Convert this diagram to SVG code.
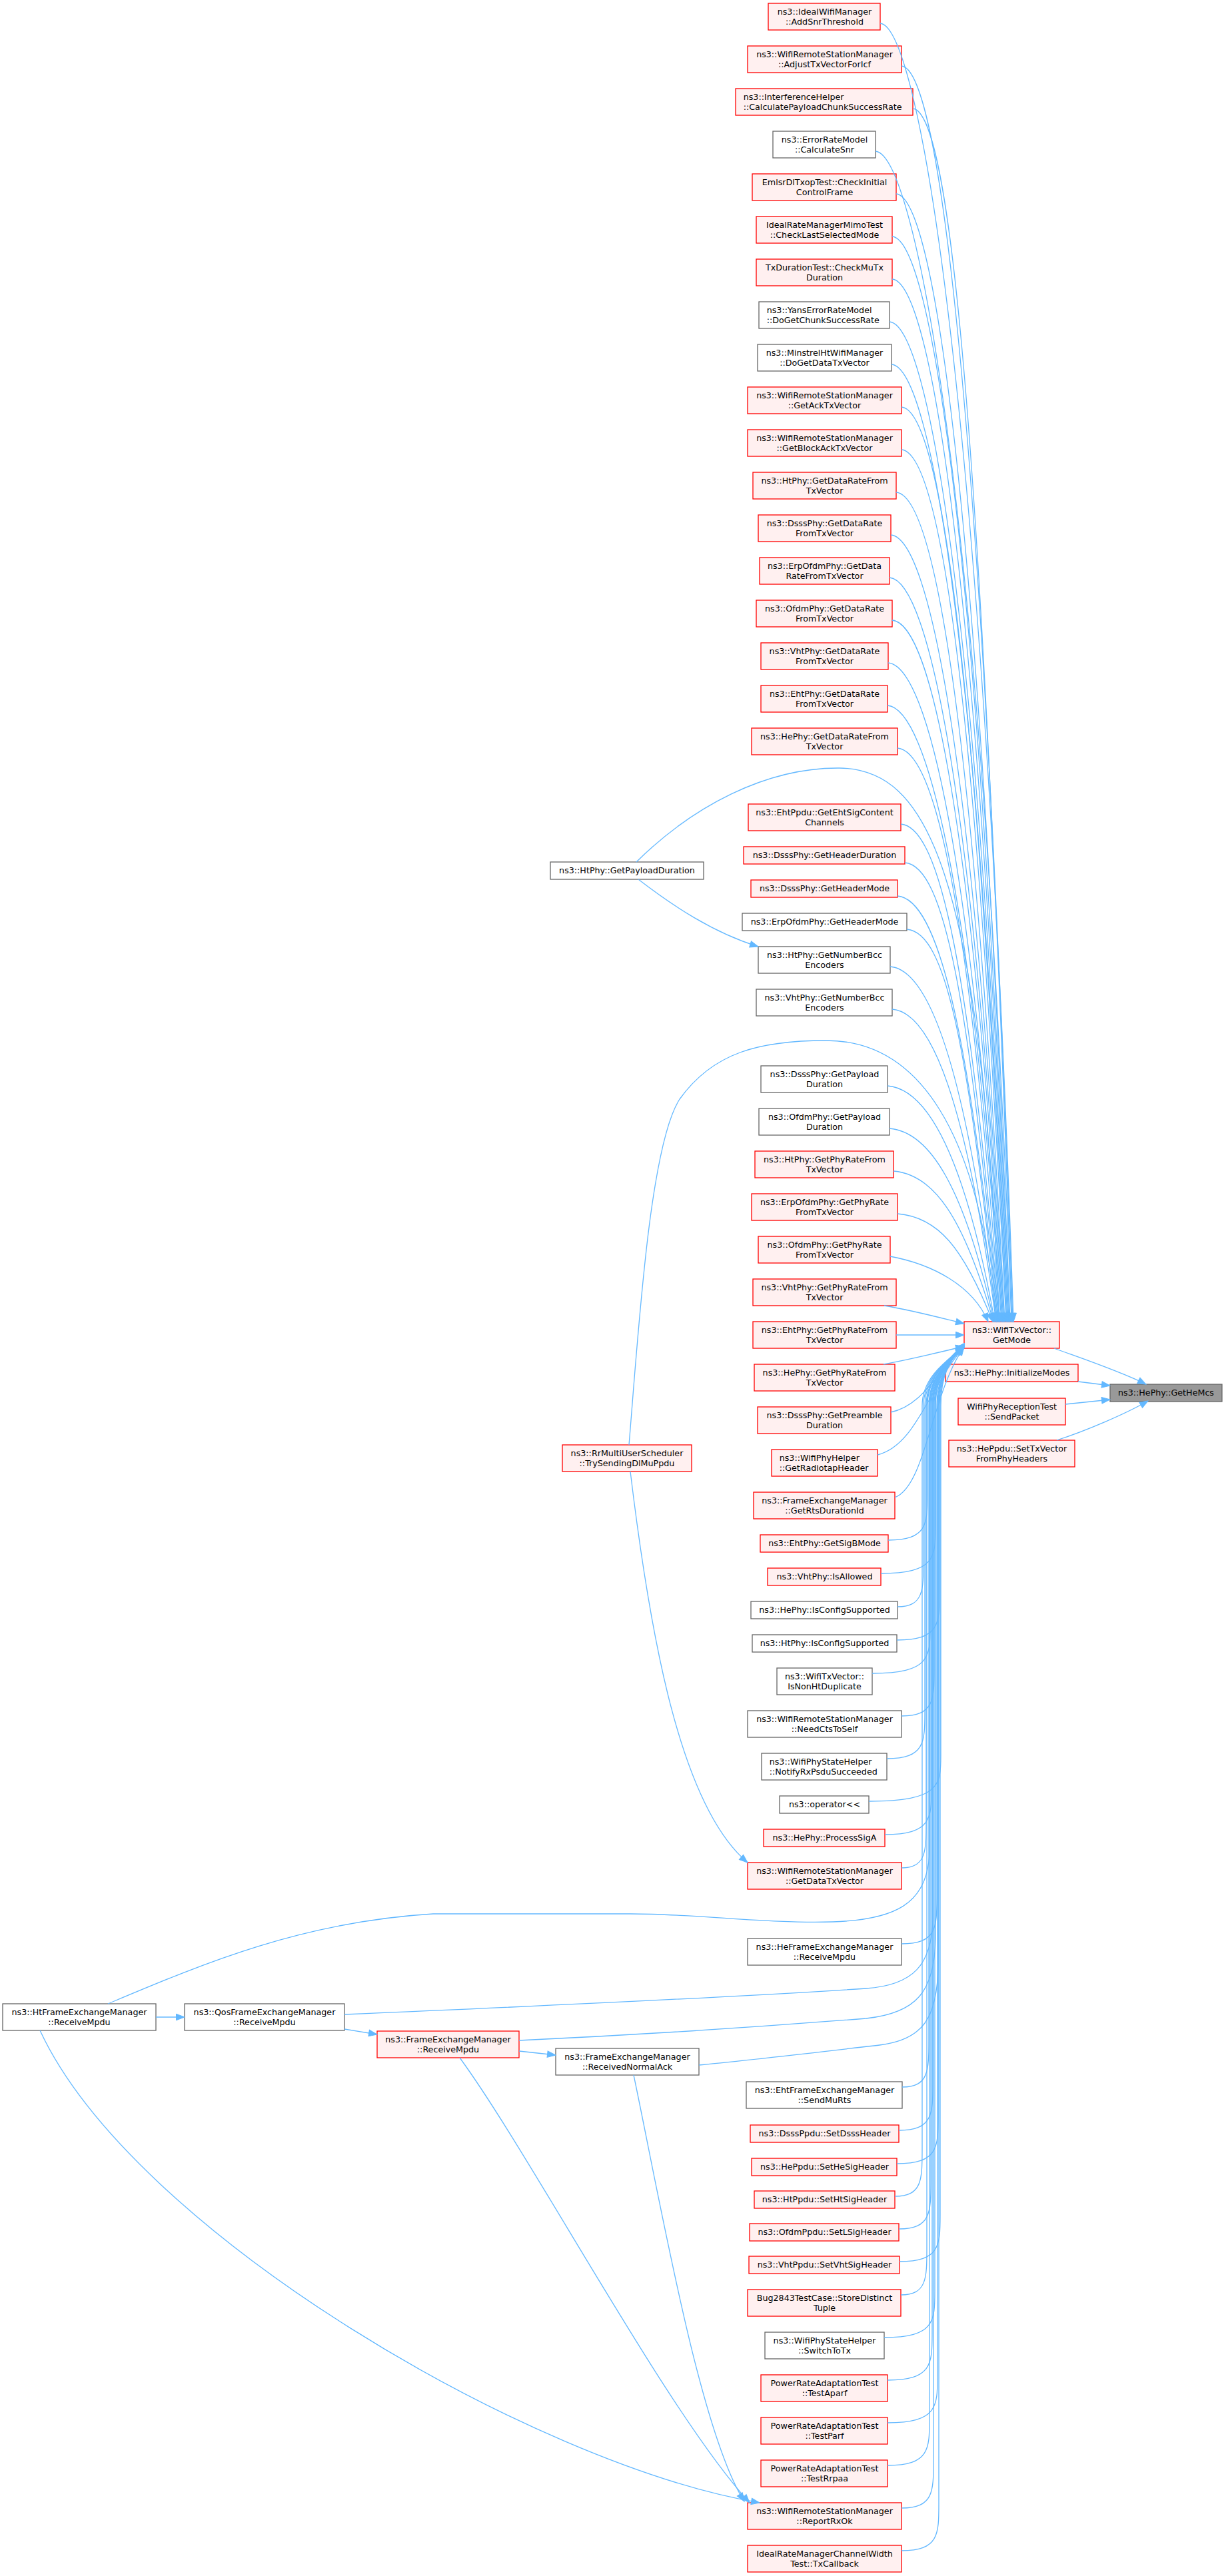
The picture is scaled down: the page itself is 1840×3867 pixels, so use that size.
<svg xmlns="http://www.w3.org/2000/svg" width="1840" height="3867" viewBox="0 0 1840 3867">
<style>
.r rect{fill:#FFF0F0;stroke:#FF0000;stroke-width:1.3}
.g rect{fill:#FFFFFF;stroke:#666666;stroke-width:1.3}
.root rect{fill:#999999;stroke:#666666;stroke-width:1.3}
text{font-family:"DejaVu Sans","Liberation Sans",sans-serif;font-size:12.7px;fill:#000000;text-anchor:middle}
.l text{text-anchor:start}
#edges path{fill:none;stroke:#63B8FF;stroke-width:1.3;marker-end:url(#ah)}
</style>
<defs>
<marker id="ah" markerUnits="userSpaceOnUse" markerWidth="14" markerHeight="11" refX="12.5" refY="4.75" orient="auto" overflow="visible">
<path d="M0,0 L12.5,4.75 L0,9.5 Z" fill="#63B8FF" stroke="#63B8FF" stroke-width="1"/>
</marker>
</defs>
<rect x="0" y="0" width="1840" height="3867" fill="#FFFFFF"/>

<g id="nodes">
<g id="n1" class="r"><rect x="1153" y="5" width="168" height="40"/><text x="1237.5" y="22">ns3::IdealWifiManager</text><text x="1237.5" y="36.5">::AddSnrThreshold</text></g>
<g id="n2" class="r"><rect x="1122" y="69" width="231" height="40"/><text x="1237.5" y="86">ns3::WifiRemoteStationManager</text><text x="1237.5" y="100.5">::AdjustTxVectorForIcf</text></g>
<g id="n3" class="r l"><rect x="1104" y="133" width="266" height="40"/><text x="1115.7" y="150">ns3::InterferenceHelper</text><text x="1115.7" y="164.5">::CalculatePayloadChunkSuccessRate</text></g>
<g id="n4" class="g"><rect x="1160" y="197" width="154" height="40"/><text x="1237.5" y="214">ns3::ErrorRateModel</text><text x="1237.5" y="228.5">::CalculateSnr</text></g>
<g id="n5" class="r"><rect x="1129" y="261" width="216" height="40"/><text x="1237.5" y="278">EmlsrDlTxopTest::CheckInitial</text><text x="1237.5" y="292.5">ControlFrame</text></g>
<g id="n6" class="r"><rect x="1135" y="325" width="204" height="40"/><text x="1237.5" y="342">IdealRateManagerMimoTest</text><text x="1237.5" y="356.5">::CheckLastSelectedMode</text></g>
<g id="n7" class="r"><rect x="1135" y="389" width="204" height="40"/><text x="1237.5" y="406">TxDurationTest::CheckMuTx</text><text x="1237.5" y="420.5">Duration</text></g>
<g id="n8" class="g l"><rect x="1139" y="453" width="196" height="40"/><text x="1150.7" y="470">ns3::YansErrorRateModel</text><text x="1150.7" y="484.5">::DoGetChunkSuccessRate</text></g>
<g id="n9" class="g"><rect x="1137" y="517" width="201" height="40"/><text x="1237.5" y="534">ns3::MinstrelHtWifiManager</text><text x="1237.5" y="548.5">::DoGetDataTxVector</text></g>
<g id="n10" class="r"><rect x="1122" y="581" width="231" height="40"/><text x="1237.5" y="598">ns3::WifiRemoteStationManager</text><text x="1237.5" y="612.5">::GetAckTxVector</text></g>
<g id="n11" class="r"><rect x="1122" y="645" width="231" height="40"/><text x="1237.5" y="662">ns3::WifiRemoteStationManager</text><text x="1237.5" y="676.5">::GetBlockAckTxVector</text></g>
<g id="n12" class="r"><rect x="1130" y="709" width="215" height="40"/><text x="1237.5" y="726">ns3::HtPhy::GetDataRateFrom</text><text x="1237.5" y="740.5">TxVector</text></g>
<g id="n13" class="r"><rect x="1138" y="773" width="199" height="40"/><text x="1237.5" y="790">ns3::DsssPhy::GetDataRate</text><text x="1237.5" y="804.5">FromTxVector</text></g>
<g id="n14" class="r"><rect x="1140" y="837" width="195" height="40"/><text x="1237.5" y="854">ns3::ErpOfdmPhy::GetData</text><text x="1237.5" y="868.5">RateFromTxVector</text></g>
<g id="n15" class="r"><rect x="1135" y="901" width="204" height="40"/><text x="1237.5" y="918">ns3::OfdmPhy::GetDataRate</text><text x="1237.5" y="932.5">FromTxVector</text></g>
<g id="n16" class="r"><rect x="1142" y="965" width="191" height="40"/><text x="1237.5" y="982">ns3::VhtPhy::GetDataRate</text><text x="1237.5" y="996.5">FromTxVector</text></g>
<g id="n17" class="r"><rect x="1142" y="1029" width="190" height="40"/><text x="1237.5" y="1046">ns3::EhtPhy::GetDataRate</text><text x="1237.5" y="1060.5">FromTxVector</text></g>
<g id="n18" class="r"><rect x="1128" y="1093" width="219" height="40"/><text x="1237.5" y="1110">ns3::HePhy::GetDataRateFrom</text><text x="1237.5" y="1124.5">TxVector</text></g>
<g id="n19" class="r"><rect x="1123" y="1207" width="229" height="40"/><text x="1237.5" y="1224">ns3::EhtPpdu::GetEhtSigContent</text><text x="1237.5" y="1238.5">Channels</text></g>
<g id="n20" class="r"><rect x="1116" y="1271" width="242" height="26"/><text x="1237.5" y="1288">ns3::DsssPhy::GetHeaderDuration</text></g>
<g id="n21" class="r"><rect x="1127" y="1321" width="220" height="26"/><text x="1237.5" y="1338">ns3::DsssPhy::GetHeaderMode</text></g>
<g id="n22" class="g"><rect x="1114" y="1371" width="247" height="26"/><text x="1237.5" y="1388">ns3::ErpOfdmPhy::GetHeaderMode</text></g>
<g id="n23" class="g"><rect x="1138" y="1421" width="198" height="40"/><text x="1237.5" y="1438">ns3::HtPhy::GetNumberBcc</text><text x="1237.5" y="1452.5">Encoders</text></g>
<g id="n24" class="g"><rect x="1135" y="1485" width="204" height="40"/><text x="1237.5" y="1502">ns3::VhtPhy::GetNumberBcc</text><text x="1237.5" y="1516.5">Encoders</text></g>
<g id="n25" class="g"><rect x="1142" y="1600" width="190" height="40"/><text x="1237.5" y="1617">ns3::DsssPhy::GetPayload</text><text x="1237.5" y="1631.5">Duration</text></g>
<g id="n26" class="g"><rect x="1139" y="1664" width="196" height="40"/><text x="1237.5" y="1681">ns3::OfdmPhy::GetPayload</text><text x="1237.5" y="1695.5">Duration</text></g>
<g id="n27" class="r"><rect x="1133" y="1728" width="208" height="40"/><text x="1237.5" y="1745">ns3::HtPhy::GetPhyRateFrom</text><text x="1237.5" y="1759.5">TxVector</text></g>
<g id="n28" class="r"><rect x="1128" y="1792" width="219" height="40"/><text x="1237.5" y="1809">ns3::ErpOfdmPhy::GetPhyRate</text><text x="1237.5" y="1823.5">FromTxVector</text></g>
<g id="n29" class="r"><rect x="1138" y="1856" width="198" height="40"/><text x="1237.5" y="1873">ns3::OfdmPhy::GetPhyRate</text><text x="1237.5" y="1887.5">FromTxVector</text></g>
<g id="n30" class="r"><rect x="1130" y="1920" width="215" height="40"/><text x="1237.5" y="1937">ns3::VhtPhy::GetPhyRateFrom</text><text x="1237.5" y="1951.5">TxVector</text></g>
<g id="n31" class="r"><rect x="1130" y="1984" width="215" height="40"/><text x="1237.5" y="2001">ns3::EhtPhy::GetPhyRateFrom</text><text x="1237.5" y="2015.5">TxVector</text></g>
<g id="n32" class="r"><rect x="1132" y="2048" width="211" height="40"/><text x="1237.5" y="2065">ns3::HePhy::GetPhyRateFrom</text><text x="1237.5" y="2079.5">TxVector</text></g>
<g id="n33" class="r"><rect x="1137" y="2112" width="200" height="40"/><text x="1237.5" y="2129">ns3::DsssPhy::GetPreamble</text><text x="1237.5" y="2143.5">Duration</text></g>
<g id="n34" class="r l"><rect x="1158" y="2176" width="159" height="40"/><text x="1169.7" y="2193">ns3::WifiPhyHelper</text><text x="1169.7" y="2207.5">::GetRadiotapHeader</text></g>
<g id="n35" class="r"><rect x="1131" y="2240" width="212" height="40"/><text x="1237.5" y="2257">ns3::FrameExchangeManager</text><text x="1237.5" y="2271.5">::GetRtsDurationId</text></g>
<g id="n36" class="r"><rect x="1141" y="2304" width="192" height="26"/><text x="1237.5" y="2321">ns3::EhtPhy::GetSigBMode</text></g>
<g id="n37" class="r"><rect x="1152" y="2354" width="170" height="26"/><text x="1237.5" y="2371">ns3::VhtPhy::IsAllowed</text></g>
<g id="n38" class="g"><rect x="1127" y="2404" width="220" height="26"/><text x="1237.5" y="2421">ns3::HePhy::IsConfigSupported</text></g>
<g id="n39" class="g"><rect x="1129" y="2454" width="217" height="26"/><text x="1237.5" y="2471">ns3::HtPhy::IsConfigSupported</text></g>
<g id="n40" class="g"><rect x="1166" y="2504" width="143" height="40"/><text x="1237.5" y="2521">ns3::WifiTxVector::</text><text x="1237.5" y="2535.5">IsNonHtDuplicate</text></g>
<g id="n41" class="g"><rect x="1122" y="2568" width="231" height="40"/><text x="1237.5" y="2585">ns3::WifiRemoteStationManager</text><text x="1237.5" y="2599.5">::NeedCtsToSelf</text></g>
<g id="n42" class="g l"><rect x="1143" y="2632" width="188" height="40"/><text x="1154.7" y="2649">ns3::WifiPhyStateHelper</text><text x="1154.7" y="2663.5">::NotifyRxPsduSucceeded</text></g>
<g id="n43" class="g"><rect x="1170" y="2696" width="134" height="26"/><text x="1237.5" y="2713">ns3::operator&lt;&lt;</text></g>
<g id="n44" class="r"><rect x="1146" y="2746" width="182" height="26"/><text x="1237.5" y="2763">ns3::HePhy::ProcessSigA</text></g>
<g id="n45" class="r"><rect x="1122" y="2796" width="231" height="40"/><text x="1237.5" y="2813">ns3::WifiRemoteStationManager</text><text x="1237.5" y="2827.5">::GetDataTxVector</text></g>
<g id="n46" class="g"><rect x="1122" y="2910" width="231" height="40"/><text x="1237.5" y="2927">ns3::HeFrameExchangeManager</text><text x="1237.5" y="2941.5">::ReceiveMpdu</text></g>
<g id="n47" class="g"><rect x="1120" y="3125" width="234" height="40"/><text x="1237.5" y="3142">ns3::EhtFrameExchangeManager</text><text x="1237.5" y="3156.5">::SendMuRts</text></g>
<g id="n48" class="r"><rect x="1126" y="3190" width="223" height="26"/><text x="1237.5" y="3207">ns3::DsssPpdu::SetDsssHeader</text></g>
<g id="n49" class="r"><rect x="1128" y="3240" width="218" height="26"/><text x="1237.5" y="3257">ns3::HePpdu::SetHeSigHeader</text></g>
<g id="n50" class="r"><rect x="1132" y="3289" width="211" height="26"/><text x="1237.5" y="3306">ns3::HtPpdu::SetHtSigHeader</text></g>
<g id="n51" class="r"><rect x="1125" y="3338" width="224" height="26"/><text x="1237.5" y="3355">ns3::OfdmPpdu::SetLSigHeader</text></g>
<g id="n52" class="r"><rect x="1124" y="3387" width="226" height="26"/><text x="1237.5" y="3404">ns3::VhtPpdu::SetVhtSigHeader</text></g>
<g id="n53" class="r"><rect x="1122" y="3437" width="230" height="40"/><text x="1237.5" y="3454">Bug2843TestCase::StoreDistinct</text><text x="1237.5" y="3468.5">Tuple</text></g>
<g id="n54" class="g"><rect x="1148" y="3501" width="179" height="40"/><text x="1237.5" y="3518">ns3::WifiPhyStateHelper</text><text x="1237.5" y="3532.5">::SwitchToTx</text></g>
<g id="n55" class="r"><rect x="1142" y="3565" width="190" height="40"/><text x="1237.5" y="3582">PowerRateAdaptationTest</text><text x="1237.5" y="3596.5">::TestAparf</text></g>
<g id="n56" class="r"><rect x="1142" y="3629" width="190" height="40"/><text x="1237.5" y="3646">PowerRateAdaptationTest</text><text x="1237.5" y="3660.5">::TestParf</text></g>
<g id="n57" class="r"><rect x="1142" y="3693" width="190" height="40"/><text x="1237.5" y="3710">PowerRateAdaptationTest</text><text x="1237.5" y="3724.5">::TestRrpaa</text></g>
<g id="n58" class="r"><rect x="1122" y="3757" width="231" height="40"/><text x="1237.5" y="3774">ns3::WifiRemoteStationManager</text><text x="1237.5" y="3788.5">::ReportRxOk</text></g>
<g id="n59" class="r"><rect x="1122" y="3821" width="231" height="40"/><text x="1237.5" y="3838">IdealRateManagerChannelWidth</text><text x="1237.5" y="3852.5">Test::TxCallback</text></g>

<g id="nGetPayloadDuration" class="g"><rect x="826" y="1294" width="230" height="26"/><text x="941" y="1311">ns3::HtPhy::GetPayloadDuration</text></g>
<g id="nTrySendingDlMuPpdu" class="r"><rect x="844" y="2169" width="194" height="40"/><text x="941" y="2186">ns3::RrMultiUserScheduler</text><text x="941" y="2200.5">::TrySendingDlMuPpdu</text></g>
<g id="nHtFemReceiveMpdu" class="g"><rect x="4" y="3008" width="230" height="40"/><text x="119" y="3025">ns3::HtFrameExchangeManager</text><text x="119" y="3039.5">::ReceiveMpdu</text></g>
<g id="nQosFemReceiveMpdu" class="g"><rect x="277" y="3008" width="240" height="40"/><text x="397" y="3025">ns3::QosFrameExchangeManager</text><text x="397" y="3039.5">::ReceiveMpdu</text></g>
<g id="nFemReceiveMpdu" class="r"><rect x="566" y="3049" width="213" height="40"/><text x="672.5" y="3066">ns3::FrameExchangeManager</text><text x="672.5" y="3080.5">::ReceiveMpdu</text></g>
<g id="nReceivedNormalAck" class="g"><rect x="834" y="3075" width="215" height="40"/><text x="941.5" y="3092">ns3::FrameExchangeManager</text><text x="941.5" y="3106.5">::ReceivedNormalAck</text></g>

<g id="nGetMode" class="r"><rect x="1447" y="1984" width="143" height="40"/><text x="1518.5" y="2001">ns3::WifiTxVector::</text><text x="1518.5" y="2015.5">GetMode</text></g>
<g id="nInitializeModes" class="r"><rect x="1419" y="2048" width="199" height="26"/><text x="1518.5" y="2065">ns3::HePhy::InitializeModes</text></g>
<g id="nSendPacket" class="r"><rect x="1438" y="2099" width="161" height="40"/><text x="1518.5" y="2116">WifiPhyReceptionTest</text><text x="1518.5" y="2130.5">::SendPacket</text></g>
<g id="nSetTxVector" class="r"><rect x="1424" y="2162" width="189" height="40"/><text x="1518.5" y="2179">ns3::HePpdu::SetTxVector</text><text x="1518.5" y="2193.5">FromPhyHeaders</text></g>
<g id="nGetHeMcs" class="root"><rect x="1666" y="2078" width="168" height="26"/><text x="1750" y="2095">ns3::HePhy::GetHeMcs</text></g>
</g>

<g id="edges">
<path d="M1582,2024 C1620,2038 1680,2058 1720,2078"/>
<path d="M1618,2074 L1666,2080"/>
<path d="M1599,2108 L1666,2101"/>
<path d="M1586,2162 C1630,2148 1690,2122 1723,2103"/>

<path d="M1321,35 C1381,40 1476,620 1521,1984"/>
<path d="M1353,99 C1413,104 1475,665 1520,1984"/>
<path d="M1370,163 C1430,168 1474,709 1519,1984"/>
<path d="M1314,227 C1374,232 1473,754 1518,1984"/>
<path d="M1345,291 C1405,296 1471,799 1516,1984"/>
<path d="M1339,355 C1399,360 1470,844 1515,1984"/>
<path d="M1339,419 C1399,424 1469,889 1514,1984"/>
<path d="M1335,483 C1395,488 1468,933 1513,1984"/>
<path d="M1338,547 C1398,552 1467,978 1512,1984"/>
<path d="M1353,611 C1413,616 1466,1023 1511,1984"/>
<path d="M1353,675 C1413,680 1465,1068 1510,1984"/>
<path d="M1345,739 C1405,744 1463,1113 1508,1984"/>
<path d="M1337,803 C1397,808 1462,1157 1507,1984"/>
<path d="M1335,867 C1395,872 1461,1202 1506,1984"/>
<path d="M1339,931 C1399,936 1460,1247 1505,1984"/>
<path d="M1333,995 C1393,1000 1459,1292 1504,1984"/>
<path d="M1332,1059 C1392,1064 1458,1337 1503,1984"/>
<path d="M1347,1123 C1407,1128 1456,1381 1501,1984"/>
<path d="M1352,1237 C1412,1242 1455,1461 1500,1984"/>
<path d="M1358,1295 C1418,1300 1454,1502 1499,1984"/>
<path d="M1347,1345 C1407,1350 1453,1537 1498,1984"/>
<path d="M1361,1395 C1421,1400 1452,1572 1497,1984"/>
<path d="M1336,1451 C1396,1456 1451,1611 1496,1984"/>
<path d="M1339,1515 C1399,1520 1450,1656 1495,1984"/>
<path d="M1332,1630 C1392,1635 1448,1736 1493,1984"/>
<path d="M1335,1694 C1395,1699 1447,1781 1492,1984"/>
<path d="M1341,1758 C1401,1763 1446,1826 1491,1984"/>
<path d="M1347,1822 C1407,1827 1445,1871 1490,1984"/>
<path d="M1336,1886 C1400,1898 1460,1930 1483,1984"/>
<path d="M1327,1960 C1370,1967 1410,1978 1447,1987"/>
<path d="M1345,2004 L1447,2004"/>
<path d="M1326,2048 C1370,2040 1410,2030 1447,2021"/>
<path d="M1337,2120 C1385,2110 1405,2060 1447,2022"/>
<path d="M1317,2184 C1375,2170 1395,2080 1447,2022"/>
<path d="M1343,2248 C1390,2230 1398,2090 1447,2022"/>
<path d="M1333,2312 C1392,2312 1392,2287 1392,2242 L1392,2110 C1392,2065 1425,2040 1447,2017"/>
<path d="M1322,2362 C1404,2362 1404,2337 1404,2292 L1404,2110 C1404,2065 1425,2040 1447,2019"/>
<path d="M1347,2412 C1386,2412 1386,2387 1386,2342 L1386,2110 C1386,2065 1425,2040 1447,2021"/>
<path d="M1346,2462 C1410,2462 1410,2437 1410,2392 L1410,2110 C1410,2065 1425,2040 1447,2023"/>
<path d="M1309,2512 C1396,2512 1396,2487 1396,2442 L1396,2110 C1396,2065 1425,2040 1447,2017"/>
<path d="M1353,2576 C1402,2576 1402,2551 1402,2506 L1402,2110 C1402,2065 1425,2040 1447,2019"/>
<path d="M1331,2640 C1388,2640 1388,2615 1388,2570 L1388,2110 C1388,2065 1425,2040 1447,2021"/>
<path d="M1304,2704 C1412,2704 1412,2679 1412,2634 L1412,2110 C1412,2065 1425,2040 1447,2023"/>
<path d="M1328,2754 C1398,2754 1398,2729 1398,2684 L1398,2110 C1398,2065 1425,2040 1447,2017"/>
<path d="M1353,2804 C1390,2804 1390,2779 1390,2734 L1390,2110 C1390,2065 1425,2040 1447,2019"/>
<path d="M1353,2918 C1406,2918 1406,2893 1406,2848 L1406,2110 C1406,2065 1425,2040 1447,2021"/>
<path d="M1354,3133 C1394,3133 1394,3108 1394,3063 L1394,2110 C1394,2065 1425,2040 1447,2023"/>
<path d="M1349,3198 C1400,3198 1400,3173 1400,3128 L1400,2110 C1400,2065 1425,2040 1447,2017"/>
<path d="M1346,3248 C1408,3248 1408,3223 1408,3178 L1408,2110 C1408,2065 1425,2040 1447,2019"/>
<path d="M1343,3297 C1384,3297 1384,3272 1384,3227 L1384,2110 C1384,2065 1425,2040 1447,2021"/>
<path d="M1349,3346 C1397,3346 1397,3321 1397,3276 L1397,2110 C1397,2065 1425,2040 1447,2023"/>
<path d="M1350,3395 C1411,3395 1411,3370 1411,3325 L1411,2110 C1411,2065 1425,2040 1447,2017"/>
<path d="M1352,3445 C1391,3445 1391,3420 1391,3375 L1391,2110 C1391,2065 1425,2040 1447,2019"/>
<path d="M1327,3509 C1403,3509 1403,3484 1403,3439 L1403,2110 C1403,2065 1425,2040 1447,2021"/>
<path d="M1332,3573 C1399,3573 1399,3548 1399,3503 L1399,2110 C1399,2065 1425,2040 1447,2023"/>
<path d="M1332,3637 C1407,3637 1407,3612 1407,3567 L1407,2110 C1407,2065 1425,2040 1447,2017"/>
<path d="M1332,3701 C1395,3701 1395,3676 1395,3631 L1395,2110 C1395,2065 1425,2040 1447,2019"/>
<path d="M1353,3765 C1401,3765 1401,3740 1401,3695 L1401,2110 C1401,2065 1425,2040 1447,2021"/>
<path d="M1353,3829 C1409,3829 1409,3804 1409,3759 L1409,2110 C1409,2065 1425,2040 1447,2023"/>

<path d="M955,1294 C1040,1210 1150,1152 1260,1153 C1390,1155 1470,1300 1500,1984"/>
<path d="M958,1320 C1010,1360 1070,1400 1138,1421"/>
<path d="M944,2169 C958,2000 975,1720 1020,1650 C1070,1580 1140,1562 1240,1562 C1380,1562 1470,1700 1495,1984"/>
<path d="M946,2209 C975,2450 1020,2710 1122,2796"/>

<path d="M162,3008 C300,2950 450,2885 650,2873 L946,2873 C1050,2873 1150,2888 1250,2885 C1340,2882 1393,2860 1395,2780 L1395,2110 C1395,2065 1425,2040 1447,2020"/>
<path d="M517,3024 C800,3012 1100,2998 1300,2985 C1370,2980 1399,2950 1400,2880 L1400,2110 C1400,2065 1425,2040 1447,2020"/>
<path d="M779,3063 C950,3055 1150,3042 1300,3030 C1375,3022 1403,2990 1404,2910 L1404,2110 C1404,2065 1425,2040 1447,2020"/>
<path d="M1049,3100 C1150,3090 1250,3078 1320,3070 C1385,3062 1407,3030 1408,2950 L1408,2110 C1408,2065 1425,2040 1447,2020"/>

<path d="M234,3028 L277,3028"/>
<path d="M517,3046 L566,3054"/>
<path d="M779,3079 L834,3085"/>
<path d="M60,3048 C200,3350 800,3700 1140,3757"/>
<path d="M690,3089 C800,3240 1000,3620 1125,3757"/>
<path d="M951,3115 C990,3300 1050,3650 1117,3755"/>
</g>
</svg>
